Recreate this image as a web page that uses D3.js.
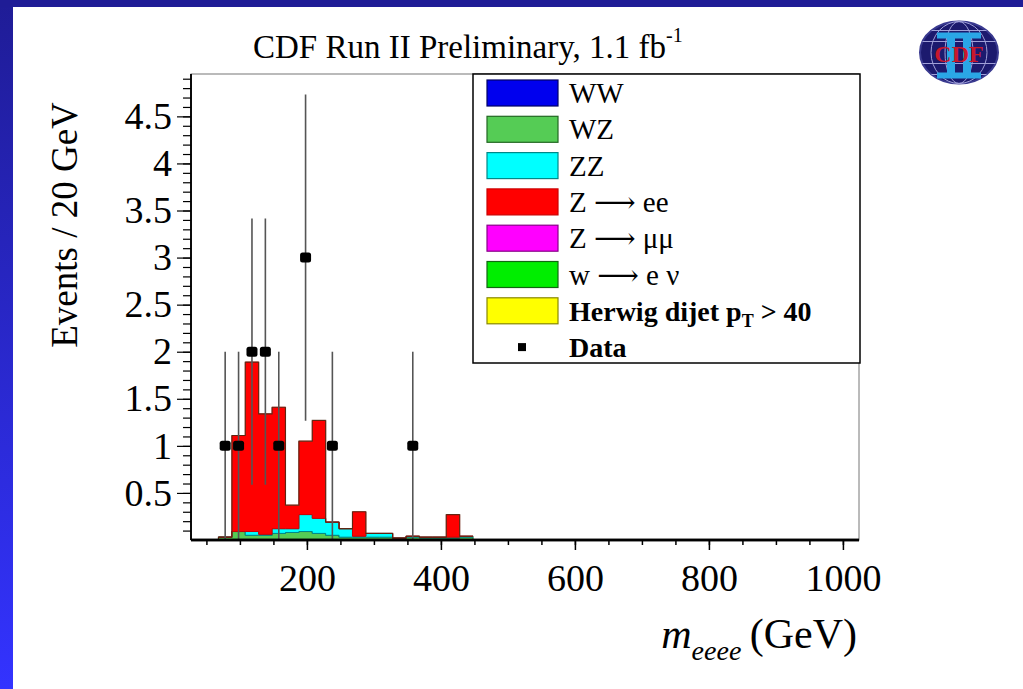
<!DOCTYPE html>
<html>
<head>
<meta charset="utf-8">
<script src="https://cdn.jsdelivr.net/npm/d3@7"></script>
<style>
  html, body { margin: 0; padding: 0; background: #ffffff; }
  svg { display: block; }
  text { font-family: "Liberation Serif", "DejaVu Serif", serif; fill: #000; }
</style>
</head>
<body>
<svg id="chart" width="1023" height="689"></svg>
<script>
// ---------------- DATA ----------------
const titleText = "CDF Run II Preliminary, 1.1 fb";
const titleSup = "-1";
const yLabel = "Events / 20 GeV";
const binWidth = 20;
// lower edges of 20 GeV bins (GeV)
const binLow = [48, 68, 88, 108, 128, 148, 168, 188, 208, 228, 248, 268, 288, 308, 328, 348, 368, 388, 408, 428];
const seriesNames = ["WW", "WZ", "ZZ", "Z \u27f6 ee", "Z \u27f6 \u03bc\u03bc", "w \u27f6 e \u03bd", "Herwig dijet"];
const valWW    = [0, 0, 0, 0, 0, 0, 0, 0, 0, 0, 0, 0, 0, 0, 0, 0, 0, 0, 0, 0];
const valWZ    = [0, 0.03, 0.09, 0.05, 0.05, 0.07, 0.08, 0.09, 0.07, 0.05, 0.03, 0.03, 0.03, 0.03, 0.02, 0.03, 0.02, 0.02, 0.02, 0.03];
const valZZ    = [0, 0, 0, 0.04, 0.01, 0.05, 0.04, 0.18, 0.16, 0.14, 0.09, 0.01, 0.04, 0.04, 0, 0.01, 0.01, 0.01, 0.01, 0.01];
const valZee   = [0, 0, 1.02, 1.80, 1.28, 1.29, 0.25, 0.78, 1.04, 0, 0, 0.26, 0, 0, 0, 0, 0, 0, 0.24, 0];
const valZmm   = [0, 0, 0, 0, 0, 0, 0, 0, 0, 0, 0, 0, 0, 0, 0, 0, 0, 0, 0, 0];
const valWen   = [0, 0, 0, 0, 0, 0, 0, 0, 0, 0, 0, 0, 0, 0, 0, 0, 0, 0, 0, 0];
const valQCD   = [0, 0, 0, 0, 0, 0, 0, 0, 0, 0, 0, 0, 0, 0, 0, 0, 0, 0, 0, 0];
const seriesColors = ["#0000ee", "#55cc55", "#00ffff", "#ff0000", "#ff00ff", "#00ee00", "#ffff00"];
const seriesStrokes = ["#000066", "#226622", "#008888", "#cc0000", "#880088", "#116611", "#888800"];
// data points (bin centre, events)
const dataX = [78, 98, 118, 138, 158, 198, 238, 358];
const dataN = [1, 1, 2, 2, 1, 3, 1, 1];
// axis ticks
const xMajorTicks = [200, 400, 600, 800, 1000];
const xMinorTicks = d3.range(50, 1001, 50);
const yMajorTicks = [0.5, 1, 1.5, 2, 2.5, 3, 3.5, 4, 4.5];
const yMinorTicks = d3.range(1, 50).map(d => d / 10);

// ---------------- LAYOUT ----------------
const svg = d3.select("#chart");
const plot = { left: 191, right: 859, top: 74, bottom: 540 };
const x = d3.scaleLinear().domain([27, 1024]).range([plot.left, plot.right]);
const y = d3.scaleLinear().domain([0, 4.95]).range([plot.bottom, plot.top]);

// blue frame
const defs = svg.append("defs");
const grad = defs.append("linearGradient").attr("id", "leftband")
  .attr("x1", 0).attr("y1", 0).attr("x2", 0).attr("y2", 1);
grad.append("stop").attr("offset", "0%").attr("stop-color", "#1f1c96");
grad.append("stop").attr("offset", "100%").attr("stop-color", "#3333ff");
svg.append("rect").attr("x", 0).attr("y", 0).attr("width", 13).attr("height", 689).attr("fill", "url(#leftband)");
svg.append("rect").attr("x", 0).attr("y", 0).attr("width", 1023).attr("height", 7).attr("fill", "#1f1c96");

// title
const title = svg.append("text").attr("x", 253).attr("y", 58).style("font-size", "33px");
title.append("tspan").text(titleText);
title.append("tspan").attr("dy", -16).style("font-size", "20px").text(titleSup);

// plot frame
svg.append("rect").attr("x", plot.left).attr("y", plot.top)
  .attr("width", plot.right - plot.left).attr("height", plot.bottom - plot.top)
  .attr("fill", "#fff").attr("stroke", "#777").attr("stroke-width", 1);

// ---------------- STACK ----------------
const table = binLow.map((b, i) => ({
  lo: b, hi: b + binWidth,
  [seriesNames[0]]: valWW[i], [seriesNames[1]]: valWZ[i], [seriesNames[2]]: valZZ[i],
  [seriesNames[3]]: valZee[i], [seriesNames[4]]: valZmm[i], [seriesNames[5]]: valWen[i],
  [seriesNames[6]]: valQCD[i]
}));
const stacked = d3.stack().keys(seriesNames)(table);

const area = d3.area().x(p => x(p.x)).y0(p => y(p.y0)).y1(p => y(p.y1));
stacked.forEach((layer, li) => {
  const pts = [];
  layer.forEach(d => {
    pts.push({ x: d.data.lo, y0: d[0], y1: d[1] });
    pts.push({ x: d.data.hi, y0: d[0], y1: d[1] });
  });
  if (d3.max(layer, d => d[1] - d[0]) <= 0) return;
  svg.append("path").datum(pts).attr("d", area)
    .attr("fill", seriesColors[li]).attr("stroke", seriesStrokes[li]).attr("stroke-width", 1);
});
// total outline
const totalLine = d3.line().x(p => x(p.x)).y(p => y(p.v));
const totPts = [];
stacked[stacked.length - 1].forEach(d => {
  totPts.push({ x: d.data.lo, v: d[1] }); totPts.push({ x: d.data.hi, v: d[1] });
});
svg.append("path").datum(totPts).attr("d", totalLine).attr("fill", "none")
  .attr("stroke", "#1a3a1a").attr("stroke-width", 1.2).attr("stroke-opacity", 0.6);

// ---------------- DATA POINTS ----------------
const pts = dataX.map((d, i) => ({ x: d, n: dataN[i] }));
svg.append("g").selectAll("line").data(pts).join("line")
  .attr("x1", d => x(d.x)).attr("x2", d => x(d.x))
  .attr("y1", d => y(Math.max(0, d.n - Math.sqrt(d.n))))
  .attr("y2", d => y(d.n + Math.sqrt(d.n)))
  .attr("stroke", "#555").attr("stroke-width", 1.6);
svg.append("g").selectAll("rect").data(pts).join("rect")
  .attr("x", d => x(d.x) - 5.5).attr("y", d => y(d.n) - 5)
  .attr("width", 11).attr("height", 10).attr("rx", 2.5).attr("fill", "#000");

// ---------------- AXES ----------------
const gx = svg.append("g").attr("transform", `translate(0,${plot.bottom})`);
gx.call(d3.axisBottom(x).tickValues(xMinorTicks).tickSize(5).tickFormat(""));
const gx2 = svg.append("g").attr("transform", `translate(0,${plot.bottom})`);
gx2.call(d3.axisBottom(x).tickValues(xMajorTicks).tickSize(10).tickPadding(14).tickFormat(d3.format("d")));
[gx, gx2].forEach(g => {
  g.select(".domain").attr("stroke", "#000").attr("stroke-width", 2.5).attr("d", `M${plot.left},0H${plot.right}`);
  g.selectAll(".tick line").attr("stroke", "#000").attr("stroke-width", 1.5);
});
gx2.selectAll(".tick text").style("font-size", "38px").style("font-family", "Liberation Serif");

const gy = svg.append("g").attr("transform", `translate(${plot.left},0)`);
gy.call(d3.axisLeft(y).tickValues(yMinorTicks).tickSize(8).tickFormat(""));
const gy2 = svg.append("g").attr("transform", `translate(${plot.left},0)`);
gy2.call(d3.axisLeft(y).tickValues(yMajorTicks).tickSize(14).tickPadding(5).tickFormat(d3.format("")));
[gy, gy2].forEach(g => {
  g.select(".domain").attr("stroke", "#000").attr("stroke-width", 1.5).attr("d", `M0,${plot.bottom}V${plot.top}`);
  g.selectAll(".tick line").attr("stroke", "#000").attr("stroke-width", 1.2);
});
gy2.selectAll(".tick text").style("font-size", "38px").style("font-family", "Liberation Serif");

// axis titles
svg.append("text").attr("transform", "translate(77,225) rotate(-90)")
  .attr("text-anchor", "middle").style("font-size", "37px").text(yLabel);
const xl = svg.append("text").attr("x", 857).attr("y", 648).attr("text-anchor", "end").style("font-size", "42px");
xl.append("tspan").style("font-style", "italic").text("m");
xl.append("tspan").style("font-style", "italic").style("font-size", "28px").attr("dy", 12).text("eeee");
xl.append("tspan").attr("dy", -12).text("\u2009(GeV)");

// ---------------- LEGEND ----------------
const leg = svg.append("g");
leg.append("rect").attr("x", 473).attr("y", 74).attr("width", 387).attr("height", 289)
  .attr("fill", "#fff").attr("stroke", "#000").attr("stroke-width", 1.5);
const rowY = i => 93 + i * 36.3;
seriesNames.slice(0, 6).forEach((lab, i) => {
  leg.append("rect").attr("x", 487).attr("y", rowY(i) - 13).attr("width", 71).attr("height", 26)
    .attr("fill", seriesColors[i]).attr("stroke", seriesStrokes[i]).attr("stroke-width", 1.2);
  leg.append("text").attr("x", 569).attr("y", rowY(i) + 10).style("font-size", "29px").text(lab);
});
leg.append("rect").attr("x", 487).attr("y", rowY(6) - 13).attr("width", 71).attr("height", 26)
  .attr("fill", seriesColors[6]).attr("stroke", seriesStrokes[6]).attr("stroke-width", 1.2);
const ht = leg.append("text").attr("x", 569).attr("y", rowY(6) + 10).style("font-size", "28px").style("font-weight", "bold");
ht.append("tspan").text("Herwig dijet p");
ht.append("tspan").attr("dy", 6).style("font-size", "18px").text("T");
ht.append("tspan").attr("dy", -6).text(" > 40");
leg.append("rect").attr("x", 518).attr("y", rowY(7) - 4).attr("width", 8).attr("height", 8).attr("fill", "#000");
leg.append("text").attr("x", 569).attr("y", rowY(7) + 10).style("font-size", "28px").style("font-weight", "bold").text("Data");

// ---------------- LOGO ----------------
const logo = svg.append("g").attr("transform", "translate(959,52.5)");
logo.append("ellipse").attr("rx", 39).attr("ry", 31).attr("fill", "#1c1a6e").attr("stroke", "#3a3a90").attr("stroke-width", 2);
[-22, -11, 11, 22].forEach(dy => {
  const w = 39 * Math.sqrt(1 - (dy / 31) ** 2);
  logo.append("line").attr("x1", -w).attr("x2", w).attr("y1", dy).attr("y2", dy).attr("stroke", "#a0a0d8").attr("stroke-width", 1);
});
[14, 28].forEach(rx => {
  logo.append("ellipse").attr("rx", rx).attr("ry", 31).attr("fill", "none").attr("stroke", "#a0a0d8").attr("stroke-width", 1);
});
const cy = "#2aa6e6";
logo.append("rect").attr("x", -22).attr("y", -20).attr("width", 44).attr("height", 6).attr("fill", cy);
logo.append("rect").attr("x", -22).attr("y", 20).attr("width", 44).attr("height", 6).attr("fill", cy);
logo.append("rect").attr("x", -12).attr("y", -16).attr("width", 8).attr("height", 38).attr("fill", cy);
logo.append("rect").attr("x", 4).attr("y", -16).attr("width", 8).attr("height", 38).attr("fill", cy);
logo.append("text").attr("x", 0).attr("y", 9).attr("text-anchor", "middle")
  .style("font-size", "24px").style("font-weight", "bold").style("fill", "#c8182c").text("CDF");
</script>
</body>
</html>
